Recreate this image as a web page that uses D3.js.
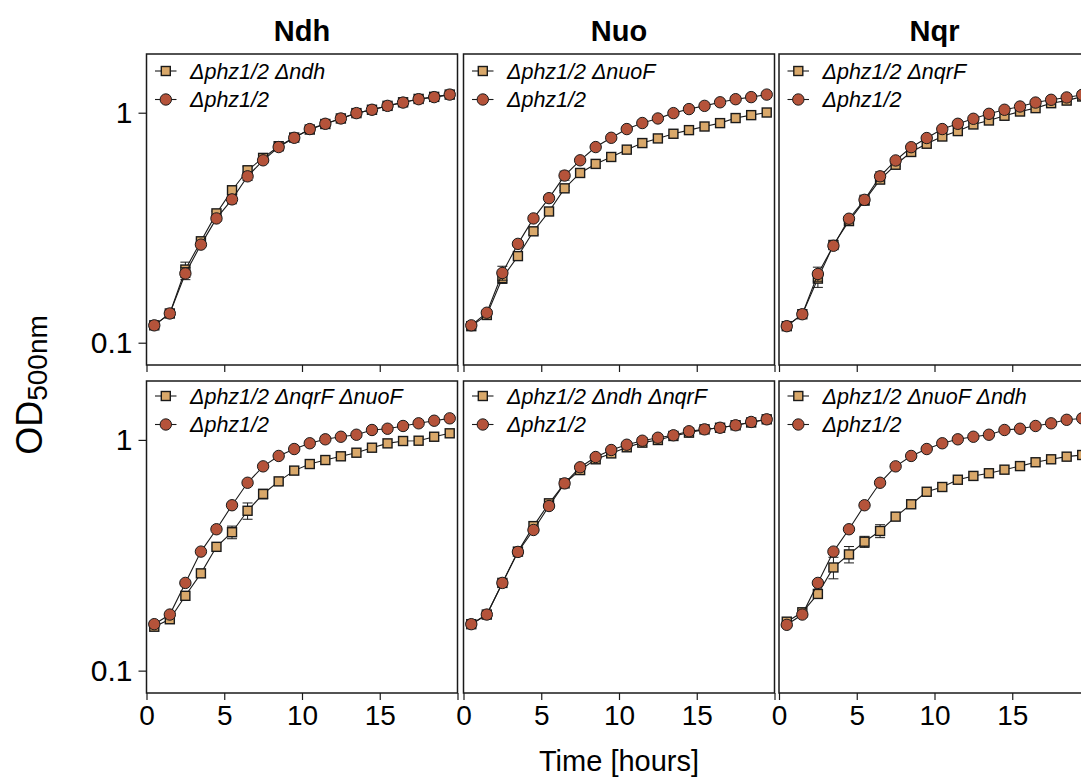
<!DOCTYPE html>
<html>
<head>
<meta charset="utf-8">
<script src="https://cdn.jsdelivr.net/npm/d3@7"></script>
<style>
  html, body { margin: 0; padding: 0; background: #fff; }
  svg { display: block; font-family: "Liberation Sans", Arial, sans-serif; }
</style>
</head>
<body>
<svg id="chart" width="1081" height="782"></svg>
<script>
// ---------------- data ----------------
const times = [0.5,1.5,2.5,3.5,4.5,5.5,6.5,7.5,8.5,9.5,10.5,11.5,12.5,13.5,14.5,15.5,16.5,17.5,18.5,19.5];

const panelTitles = ["Ndh", "Nuo", "Nqr"];
const mutantLabels = ["Δphz1/2 Δndh", "Δphz1/2 ΔnuoF", "Δphz1/2 ΔnqrF",
                      "Δphz1/2 ΔnqrF ΔnuoF", "Δphz1/2 Δndh ΔnqrF", "Δphz1/2 ΔnuoF Δndh"];
const wtLabel = "Δphz1/2";

// Δphz1/2 (parent) in each panel
const wt1 = [0.119,0.134,0.200,0.267,0.347,0.420,0.529,0.621,0.709,0.778,0.849,0.895,0.944,0.996,1.030,1.071,1.107,1.145,1.169,1.199];
const wt2 = [0.119,0.135,0.201,0.269,0.347,0.425,0.533,0.621,0.709,0.778,0.849,0.902,0.944,0.996,1.037,1.071,1.110,1.145,1.169,1.199];
const wt3 = [0.118,0.133,0.199,0.264,0.346,0.418,0.529,0.620,0.708,0.776,0.849,0.895,0.941,0.989,1.030,1.064,1.107,1.138,1.165,1.196];
const wt4 = [0.159,0.175,0.240,0.328,0.410,0.521,0.652,0.768,0.852,0.913,0.967,1.006,1.032,1.053,1.104,1.118,1.149,1.180,1.211,1.240];
const wt5 = [0.159,0.175,0.240,0.327,0.407,0.517,0.648,0.761,0.843,0.904,0.953,0.992,1.022,1.047,1.090,1.111,1.129,1.157,1.196,1.228];
const wt6 = [0.158,0.175,0.240,0.328,0.410,0.521,0.652,0.768,0.852,0.913,0.967,1.006,1.032,1.053,1.104,1.118,1.149,1.180,1.222,1.240];

// mutants
const mut1 = [0.119,0.134,0.208,0.276,0.365,0.460,0.562,0.636,0.715,0.780,0.845,0.893,0.944,0.996,1.030,1.071,1.110,1.148,1.172,1.199];
const mut2 = [0.118,0.132,0.191,0.238,0.305,0.372,0.469,0.547,0.599,0.642,0.691,0.738,0.773,0.810,0.840,0.871,0.901,0.948,0.976,1.002];
const mut3 = [0.118,0.133,0.190,0.266,0.338,0.415,0.512,0.594,0.675,0.733,0.788,0.832,0.889,0.925,0.970,1.012,1.047,1.100,1.129,1.176];
const mut4 = [0.155,0.167,0.211,0.264,0.344,0.398,0.493,0.583,0.661,0.736,0.786,0.818,0.849,0.880,0.925,0.966,0.989,0.992,1.032,1.068];
const mut5 = [0.159,0.175,0.240,0.328,0.423,0.531,0.648,0.740,0.824,0.874,0.929,0.973,0.999,1.040,1.075,1.111,1.129,1.157,1.190,1.228];
const mut6 = [0.163,0.179,0.215,0.280,0.319,0.362,0.403,0.465,0.526,0.596,0.625,0.672,0.698,0.717,0.743,0.770,0.800,0.824,0.846,0.860];

// standard deviations
const wtErr1 = [0,0,0.012,0.006,0.008,0.018,0.022,0.008,0,0,0,0,0,0,0,0,0,0,0,0];
const wtErr2 = [0,0,0.014,0.006,0.008,0.014,0.024,0.008,0,0,0,0,0,0,0,0,0,0,0,0];
const wtErr3 = [0,0,0.014,0.006,0.008,0.020,0.024,0.010,0,0,0,0,0,0,0,0,0,0,0,0];
const wtErr4 = [0,0,0,0,0,0,0,0,0,0,0,0,0,0,0,0,0,0,0,0];
const wtErr5 = [0,0,0,0,0,0,0,0,0,0,0,0,0,0,0,0,0,0,0,0];
const wtErr6 = [0,0,0,0,0,0,0,0,0,0,0,0,0,0,0,0,0,0,0,0];
const mutErr1 = [0,0,0.016,0.006,0.008,0.020,0.020,0.008,0,0,0,0,0,0,0,0,0,0,0,0];
const mutErr2 = [0,0,0.010,0.006,0.010,0.014,0.010,0,0,0,0,0,0,0,0,0,0,0,0,0];
const mutErr3 = [0,0,0.016,0.006,0.008,0.010,0.020,0.008,0,0,0,0,0,0,0,0,0,0,0,0];
const mutErr4 = [0,0,0,0,0,0.025,0.040,0.028,0,0,0,0,0,0,0,0,0,0,0,0];
const mutErr5 = [0,0,0,0,0,0,0,0,0,0,0,0,0,0,0,0,0,0,0,0];
const mutErr6 = [0,0,0,0.030,0.026,0.020,0.026,0,0,0,0,0,0,0,0,0,0,0,0,0];

const xTicks = [0, 5, 10, 15, 20];
const xTickLabels = ["0", "5", "10", "15", ""];
const yTicks = [0.1, 1];
const yTickLabels = ["0.1", "1"];

const wtSeries  = [wt1, wt2, wt3, wt4, wt5, wt6];
const mutSeries = [mut1, mut2, mut3, mut4, mut5, mut6];
const wtErrs  = [wtErr1, wtErr2, wtErr3, wtErr4, wtErr5, wtErr6];
const mutErrs = [mutErr1, mutErr2, mutErr3, mutErr4, mutErr5, mutErr6];

// ---------------- layout ----------------
const colLeft = [146.5, 463.5, 779];
const panelW = 311;
const rowTop = [54, 381];
const rowBottom = [365, 693];
const circleFill = "#B5533A";
const squareFill = "#D9A86A";
const outline = "#1a1a1a";
const rC = 5.7, hS = 4.5;

const svg = d3.select("#chart");

for (let p = 0; p < 6; p++) {
  const row = Math.floor(p / 3), col = p % 3;
  const x = d3.scaleLinear().domain([0, 20]).range([colLeft[col], colLeft[col] + panelW]);
  const y = d3.scaleLog().domain([0.08, 1.8]).range([rowBottom[row], rowTop[row]]);
  const g = svg.append("g");

  // x axis
  const xAxis = d3.axisBottom(x).tickValues(xTicks).tickSize(7).tickPadding(5)
    .tickFormat((d, i) => row === 1 ? xTickLabels[i] : "");
  const gx = g.append("g").attr("transform", `translate(0,${rowBottom[row]})`).call(xAxis);
  gx.select(".domain").remove();
  gx.selectAll(".tick line").attr("stroke", outline).attr("stroke-width", 1.2);
  gx.selectAll(".tick text").attr("font-size", 28).attr("fill", "#000")
    .attr("font-family", "Liberation Sans, Arial, sans-serif");

  // y axis (first column only)
  if (col === 0) {
    const yAxis = d3.axisLeft(y).tickValues(yTicks).tickSize(8).tickPadding(6)
      .tickFormat((d, i) => yTickLabels[i]);
    const gy = g.append("g").attr("transform", `translate(${colLeft[col]},0)`).call(yAxis);
    gy.select(".domain").remove();
    gy.selectAll(".tick line").attr("stroke", outline).attr("stroke-width", 1.2);
    gy.selectAll(".tick text").attr("font-size", 30).attr("fill", "#000")
      .attr("font-family", "Liberation Sans, Arial, sans-serif");
  }

  // frame
  g.append("rect")
    .attr("x", x.range()[0]).attr("y", rowTop[row])
    .attr("width", panelW).attr("height", rowBottom[row] - rowTop[row])
    .attr("fill", "none").attr("stroke", outline).attr("stroke-width", 1.5);

  const line = d3.line().x((d, i) => x(times[i])).y(d => y(d));

  const drawSeries = (vals, errs, shape) => {
    const s = g.append("g");
    // error bars
    vals.forEach((v, i) => {
      const e = errs[i];
      if (e > 0) {
        const cx = x(times[i]);
        const y1 = y(v + e), y2 = y(Math.max(v - e, 0.081));
        s.append("line").attr("x1", cx).attr("x2", cx).attr("y1", y1).attr("y2", y2)
          .attr("stroke", outline).attr("stroke-width", 1);
        [y1, y2].forEach(yy => s.append("line").attr("x1", cx - 5).attr("x2", cx + 5)
          .attr("y1", yy).attr("y2", yy).attr("stroke", outline).attr("stroke-width", 1));
      }
    });
    s.append("path").attr("d", line(vals)).attr("fill", "none")
      .attr("stroke", outline).attr("stroke-width", 1.1);
    if (shape === "square") {
      s.selectAll("rect").data(vals).join("rect")
        .attr("x", (d, i) => x(times[i]) - hS).attr("y", d => y(d) - hS)
        .attr("width", 2 * hS).attr("height", 2 * hS)
        .attr("fill", squareFill).attr("stroke", outline).attr("stroke-width", 1.4);
    } else {
      s.selectAll("circle").data(vals).join("circle")
        .attr("cx", (d, i) => x(times[i])).attr("cy", d => y(d)).attr("r", rC)
        .attr("fill", circleFill).attr("stroke", outline).attr("stroke-width", 1);
    }
  };

  drawSeries(mutSeries[p], mutErrs[p], "square");
  drawSeries(wtSeries[p], wtErrs[p], "circle");

  // legend
  const lx = x.range()[0];
  const ly = rowTop[row] + (row === 0 ? 17 : 15);
  const leg = g.append("g");
  [[mutantLabels[p], "square"], [wtLabel, "circle"]].forEach(([lab, shape], k) => {
    const yy = ly + k * 28.5;
    leg.append("line").attr("x1", lx + 8.5).attr("x2", lx + 30).attr("y1", yy).attr("y2", yy)
      .attr("stroke", outline).attr("stroke-width", 1.1);
    if (shape === "square") {
      leg.append("rect").attr("x", lx + 19.3 - hS).attr("y", yy - hS).attr("width", 2 * hS).attr("height", 2 * hS)
        .attr("fill", squareFill).attr("stroke", outline).attr("stroke-width", 1.4);
    } else {
      leg.append("circle").attr("cx", lx + 19.3).attr("cy", yy).attr("r", rC)
        .attr("fill", circleFill).attr("stroke", outline).attr("stroke-width", 1);
    }
    leg.append("text").attr("x", lx + 43.5).attr("y", yy + 7.5)
      .attr("font-size", 21.5).attr("font-style", "italic").attr("fill", "#000").text(lab);
  });

  // titles
  if (row === 0) {
    svg.append("text").attr("x", colLeft[col] + panelW / 2).attr("y", 41)
      .attr("text-anchor", "middle").attr("font-size", 29).attr("font-weight", "bold")
      .attr("fill", "#000").text(panelTitles[col]);
  }
}

// axis titles
svg.append("text").attr("x", 619).attr("y", 771).attr("text-anchor", "middle")
  .attr("font-size", 29).attr("fill", "#000").text("Time [hours]");

const yl = svg.append("text").attr("transform", "translate(42,385) rotate(-90)")
  .attr("text-anchor", "middle").attr("fill", "#000");
yl.append("tspan").attr("font-size", 36).text("OD");
yl.append("tspan").attr("font-size", 28).attr("dy", 5).text("500nm");
</script>
</body>
</html>
